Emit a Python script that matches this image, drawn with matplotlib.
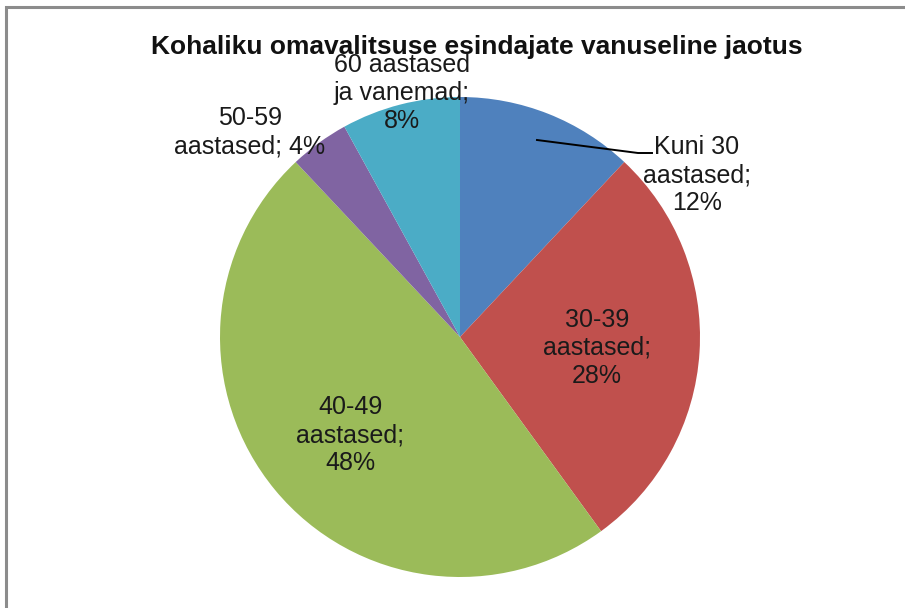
import matplotlib
matplotlib.use("Agg")
import matplotlib.pyplot as plt
from matplotlib.patches import Rectangle

plt.rcParams['font.family'] = ['Liberation Sans', 'DejaVu Sans']

# andmed
title = "Kohaliku omavalitsuse esindajate vanuseline jaotus"
labels = ["Kuni 30\naastased;\n12%", "30-39\naastased;\n28%", "40-49\naastased;\n48%",
          "50-59\naastased; 4%", "60 aastased\nja vanemad;\n8%"]
values = [12, 28, 48, 4, 8]
colors = ["#4F81BD", "#C0504D", "#9BBB59", "#8064A2", "#4BACC6"]

W, H = 905, 608
fig = plt.figure(figsize=(W / 100, H / 100), dpi=100)
ax = fig.add_axes([0, 0, 1, 1])

# raam
fig.patches.append(Rectangle((5.5 / W, -0.1), 1.2, (H - 6.5) / H + 0.1, transform=fig.transFigure,
                             fill=False, edgecolor='#8c8c8c', lw=2.2))

cx, cy, r = 460, H - 337, 240
ax.pie(values, colors=colors, startangle=90, counterclock=False,
       center=(cx, cy), radius=r, frame=True,
       wedgeprops=dict(linewidth=0))
ax.set_xlim(0, W)
ax.set_ylim(0, H)
ax.axis('off')

ax.text(477, H - 47, title, ha='center', va='center', fontsize=19, fontweight='bold',
        color='#111111')

# sildid (piksli asukohad)
pos = [(697, H - 175), (597, H - 348), (350, H - 435), (250, H - 132), (402, H - 93)]
for lab, (x, y) in zip(labels, pos):
    ax.text(x, y, lab, ha='center', va='center', fontsize=18, linespacing=1.22,
            color='#1a1a1a')

# juhtjoon
ax.plot([537, 638, 652], [H - 140, H - 153, H - 153], color='black', lw=1.4)

fig.savefig("out.png", dpi=100)
